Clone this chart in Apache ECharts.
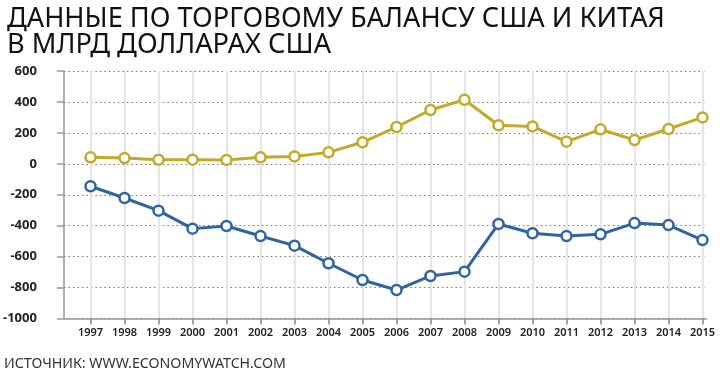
<!DOCTYPE html>
<html>
<head>
<meta charset="utf-8">
<script src="https://cdn.jsdelivr.net/npm/echarts@6/dist/echarts.min.js"></script>
<style>html,body{margin:0;padding:0;background:#fff}#c{width:720px;height:372px}</style>
</head>
<body>
<div id="c"></div>
<script>
const titleLines = ['ДАННЫЕ ПО ТОРГОВОМУ БАЛАНСУ США И КИТАЯ', 'В МЛРД ДОЛЛАРАХ США'];
const sourceText = 'ИСТОЧНИК: WWW.ECONOMYWATCH.COM';
const years = ['1997','1998','1999','2000','2001','2002','2003','2004','2005','2006','2007','2008','2009','2010','2011','2012','2013','2014','2015'];
const china = [42, 37, 27, 27, 25, 42, 48, 74, 139, 238, 348, 414, 249, 242, 143, 223, 154, 225, 300];
const usa = [-145, -221, -303, -419, -402, -467, -529, -643, -751, -816, -725, -697, -389, -449, -467, -456, -383, -396, -493];
const yMin = -1000, yMax = 600, yStep = 200;

const chart = echarts.init(document.getElementById('c'));
const mk = (name, data, color) => ({
  name, type: 'line', data, xAxisIndex: 1, yAxisIndex: 1,
  symbol: 'circle', symbolSize: 10, showSymbol: true,
  lineStyle: { color, width: 3 },
  itemStyle: { color: '#fff', borderColor: color, borderWidth: 2.5 },
  z: 5, animation: false
});
chart.setOption({
  animation: false,
  backgroundColor: '#fff',
  title: {
    text: titleLines.join('\n'),
    left: 2, top: 1,
    textStyle: { fontFamily: 'Noto Sans', fontSize: 27.2, fontWeight: 'normal', color: '#111', lineHeight: 26 }
  },
  graphic: [{
    type: 'text', left: 4, top: 357,
    style: { text: sourceText, fontFamily: 'Noto Sans', fontSize: 14.2, fill: '#333' }
  }],
  grid: [
    { left: 61.5, right: 13.5, top: 71, bottom: 53.5 },
    { left: 90.5, right: 17.5, top: 71, bottom: 53.5 }
  ],
  xAxis: [
    { gridIndex: 0, type: 'value', min: 0, max: 1, axisLabel: { show: false }, axisTick: { show: false }, splitLine: { show: false },
      axisLine: { show: true, onZero: false, lineStyle: { color: '#999', width: 1.5 } } },
    { gridIndex: 1, type: 'category', data: years, boundaryGap: false,
      axisLine: { show: false, onZero: false },
      axisTick: { show: true, length: 6, interval: 0, lineStyle: { color: '#888', width: 1.5 } },
      splitLine: { show: true, interval: 0, lineStyle: { color: '#e6e6e6', width: 2 } },
      axisLabel: { margin: 9, interval: 0, hideOverlap: false, fontFamily: 'Noto Sans', fontSize: 11, fontWeight: 600, color: '#222' } }
  ],
  yAxis: [
    { gridIndex: 0, type: 'value', min: yMin, max: yMax, interval: yStep,
      axisLine: { show: true, lineStyle: { color: '#999', width: 1.5 } },
      axisTick: { show: true, length: 7, lineStyle: { color: '#999', width: 1.5 } },
      splitLine: { show: true, lineStyle: { color: '#777', type: [1.5, 3], width: 1.2 } },
      axisLabel: { margin: 27, formatter: v => String(v), fontFamily: 'Noto Sans', fontSize: 13, fontWeight: 'bold', color: '#222' } },
    { gridIndex: 1, type: 'value', min: yMin, max: yMax, interval: yStep, show: false, splitLine: { show: false } }
  ],
  series: [
    mk('Китай', china, '#c2aa28'),
    mk('США', usa, '#2f63a2')
  ]
});
</script>
</body>
</html>
